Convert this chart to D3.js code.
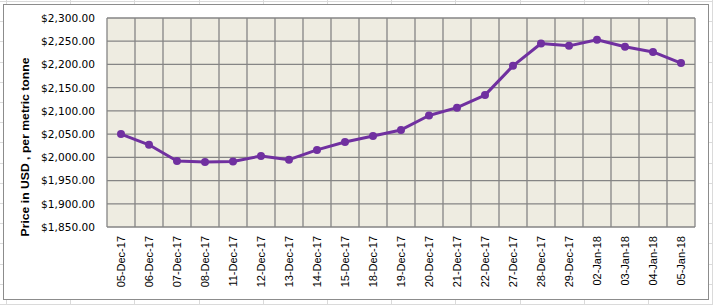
<!DOCTYPE html>
<html><head><meta charset="utf-8">
<script src="https://cdn.jsdelivr.net/npm/d3@7"></script>
<style>body{margin:0;background:#fff}svg{display:block}</style>
</head><body>
<script>
const categories = ["05-Dec-17","06-Dec-17","07-Dec-17","08-Dec-17","11-Dec-17","12-Dec-17","13-Dec-17","14-Dec-17","15-Dec-17","18-Dec-17","19-Dec-17","20-Dec-17","21-Dec-17","22-Dec-17","27-Dec-17","28-Dec-17","29-Dec-17","02-Jan-18","03-Jan-18","04-Jan-18","05-Jan-18"];
const prices = [2050,2027,1992,1990,1991,2003,1995,2016,2033,2046,2059,2090,2107,2134,2197,2245,2240,2253,2238,2227,2203];
const yTicks = [1850,1900,1950,2000,2050,2100,2150,2200,2250,2300];
const yTitle = "Price in USD , per metric tonne";

const W = 713, H = 305;
const svg = d3.select("body").append("svg").attr("width", W).attr("height", H);

// spreadsheet cell grid in background
const bg = svg.append("g").attr("stroke", "#dadada").attr("stroke-width", 1);
d3.range(6, W, 64.2).forEach(x => bg.append("line").attr("x1", Math.round(x)+0.5).attr("x2", Math.round(x)+0.5).attr("y1", 0).attr("y2", H));
d3.range(1, H, 20.2).forEach(y => bg.append("line").attr("y1", Math.round(y)+0.5).attr("y2", Math.round(y)+0.5).attr("x1", 0).attr("x2", W));

// chart area
svg.append("rect").attr("x", 3.5).attr("y", 4.5).attr("width", 705).attr("height", 295)
  .attr("fill", "#fff").attr("stroke", "#8c8c8c").attr("stroke-width", 1);

const m = {l: 107, r: 695, t: 18, b: 227};
const x = d3.scaleBand().domain(categories).range([m.l, m.r]);
const y = d3.scaleLinear().domain([1850, 2300]).range([m.b, m.t]);

svg.append("rect").attr("x", m.l).attr("y", m.t).attr("width", m.r - m.l).attr("height", m.b - m.t).attr("fill", "#EEECE1");

const grid = svg.append("g").attr("stroke", "#858585").attr("stroke-width", 1.3);
yTicks.forEach(t => grid.append("line").attr("x1", m.l).attr("x2", m.r).attr("y1", y(t)).attr("y2", y(t)));
categories.forEach(c => grid.append("line").attr("x1", x(c)).attr("x2", x(c)).attr("y1", m.t).attr("y2", m.b));
grid.append("line").attr("x1", m.r).attr("x2", m.r).attr("y1", m.t).attr("y2", m.b);

// y axis
const yAxis = svg.append("g").attr("transform", `translate(${m.l},0)`)
  .call(d3.axisLeft(y).tickValues(yTicks).tickSize(0).tickPadding(12).tickFormat(d => "$" + d3.format(",.2f")(d)));
yAxis.select(".domain").remove();
yAxis.selectAll("text").attr("font-family", "DejaVu Sans, Verdana, sans-serif").attr("font-size", "10.6px").attr("fill", "#000");

// x axis
const xAxis = svg.append("g").attr("transform", `translate(0,${m.b})`)
  .call(d3.axisBottom(x).tickSize(0).tickPadding(0));
xAxis.select(".domain").remove();
xAxis.selectAll("text").attr("font-family", "Liberation Sans, Arial, sans-serif").attr("font-size", "11px").attr("fill", "#000")
  .attr("transform", "rotate(-90)").attr("text-anchor", "end").attr("dy", "0.35em").attr("x", -9).attr("y", 0);

// title
svg.append("text").attr("transform", `translate(29,147) rotate(-90)`).attr("text-anchor", "middle")
  .attr("font-family", "Liberation Sans, Arial, sans-serif").attr("font-weight", "bold").attr("font-size", "11.5px")
  .attr("textLength", 179).attr("lengthAdjust", "spacingAndGlyphs").text(yTitle);

// line
const cx = c => x(c) + x.bandwidth() / 2;
const data = categories.map((c, i) => ({c, v: prices[i]}));
svg.append("path").datum(data).attr("fill", "none").attr("stroke", "#7030A0").attr("stroke-width", 3)
  .attr("stroke-linejoin", "round")
  .attr("d", d3.line().x(d => cx(d.c)).y(d => y(d.v)));
svg.selectAll("circle.pt").data(data).join("circle").attr("class", "pt")
  .attr("cx", d => cx(d.c)).attr("cy", d => y(d.v)).attr("r", 4).attr("fill", "#7030A0");
</script>
</body></html>
